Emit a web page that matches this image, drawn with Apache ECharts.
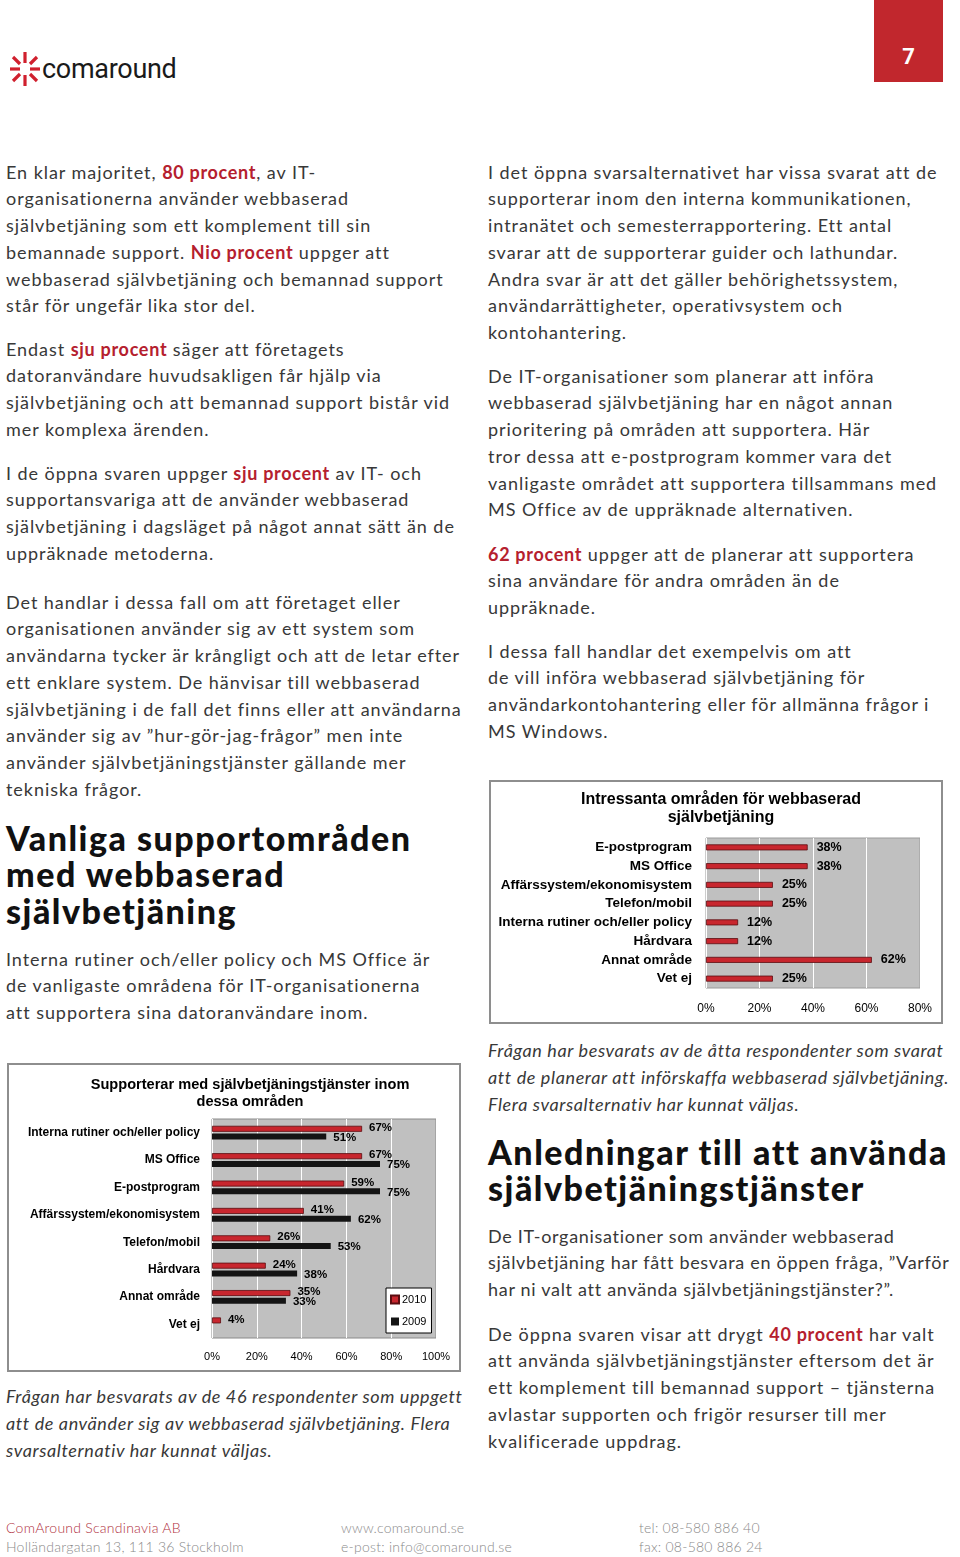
<!DOCTYPE html>
<html>
<head>
<meta charset="utf-8">
<script src="https://cdn.jsdelivr.net/npm/echarts@6/dist/echarts.min.js"></script>
<style>
  html, body { margin:0; padding:0; background:#fff; }
  body { width:960px; height:1557px; position:relative; overflow:hidden; font-family: Lato, "Open Sans", sans-serif; color:#333; }
  .p { position:absolute; font-size:18px; line-height:26.8px; white-space:nowrap; color:#383838; font-weight:400; letter-spacing:0.95px; }
  .p b { color:#b5202e; font-weight:700; letter-spacing:0.7px; }
  .it { font-style:italic; line-height:27px; letter-spacing:0.62px; }
  .h { position:absolute; font-size:34px; font-weight:900; line-height:36.5px; color:#111; white-space:nowrap; letter-spacing:1.5px; }
  .box { position:absolute; box-sizing:border-box; border:2px solid #8e8e8e; background:#fff; }
  .chart { position:absolute; }
  .foot { position:absolute; font-size:14px; line-height:19px; color:#8a8a8a; white-space:nowrap; font-weight:300; letter-spacing:0.25px; }
</style>
</head>
<body>
<!-- header -->
<svg style="position:absolute;left:8px;top:50px" width="34" height="38" viewBox="0 0 34 38">
  <g stroke="#d0202e" stroke-width="3.2" stroke-linecap="butt" fill="none">
    <line x1="17" y1="2" x2="17" y2="13"/>
    <line x1="17" y1="25" x2="17" y2="36"/>
    <line x1="2" y1="19" x2="12" y2="19"/>
    <line x1="22" y1="19" x2="32" y2="19"/>
    <line x1="5" y1="7" x2="12" y2="14"/>
    <line x1="29" y1="31" x2="22" y2="24"/>
    <line x1="29" y1="7" x2="22" y2="14"/>
    <line x1="5" y1="31" x2="12" y2="24"/>
  </g>
</svg>
<div style="position:absolute;left:42px;top:53px;font-family:Roboto,Lato,sans-serif;font-size:27px;line-height:32px;color:#1a1a1a;letter-spacing:-0.3px;">comaround</div>
<div style="position:absolute;left:874px;top:0;width:69px;height:82px;background:#c1272d;color:#fff;font-family:Roboto,sans-serif;font-weight:700;font-size:22px;text-align:center;line-height:114px;">7</div>

<!-- left column -->
<div class="p" style="left:6px;top:158.5px">En klar majoritet, <b>80 procent</b>, av IT-<br>organisationerna använder webbaserad<br>självbetjäning som ett komplement till sin<br>bemannade support. <b>Nio procent</b> uppger att<br>webbaserad självbetjäning och bemannad support<br>står för ungefär lika stor del.</div>
<div class="p" style="left:6px;top:335.5px">Endast <b>sju procent</b> säger att företagets<br>datoranvändare huvudsakligen får hjälp via<br>självbetjäning och att bemannad support bistår vid<br>mer komplexa ärenden.</div>
<div class="p" style="left:6px;top:459.5px">I de öppna svaren uppger <b>sju procent</b> av IT- och<br>supportansvariga att de använder webbaserad<br>självbetjäning i dagsläget på något annat sätt än de<br>uppräknade metoderna.</div>
<div class="p" style="left:6px;top:588.5px">Det handlar i dessa fall om att företaget eller<br>organisationen använder sig av ett system som<br>användarna tycker är krångligt och att de letar efter<br>ett enklare system. De hänvisar till webbaserad<br>självbetjäning i de fall det finns eller att användarna<br>använder sig av ”hur-gör-jag-frågor” men inte<br>använder självbetjäningstjänster gällande mer<br>tekniska frågor.</div>
<div class="h" style="left:6px;top:819.5px">Vanliga supportområden<br>med webbaserad<br>självbetjäning</div>
<div class="p" style="left:6px;top:945.5px">Interna rutiner och/eller policy och MS Office är<br>de vanligaste områdena för IT-organisationerna<br>att supportera sina datoranvändare inom.</div>

<div class="box" style="left:7px;top:1063px;width:454px;height:309px"></div>
<div id="c1" class="chart" style="left:7px;top:1063px;width:454px;height:309px"></div>

<div class="p it" style="left:6px;top:1382.5px">Frågan har besvarats av de 46 respondenter som uppgett<br>att de använder sig av webbaserad självbetjäning. Flera<br>svarsalternativ har kunnat väljas.</div>

<!-- right column -->
<div class="p" style="left:488px;top:158.5px">I det öppna svarsalternativet har vissa svarat att de<br>supporterar inom den interna kommunikationen,<br>intranätet och semesterrapportering. Ett antal<br>svarar att de supporterar guider och lathundar.<br>Andra svar är att det gäller behörighetssystem,<br>användarrättigheter, operativsystem och<br>kontohantering.</div>
<div class="p" style="left:488px;top:362.5px">De IT-organisationer som planerar att införa<br>webbaserad självbetjäning har en något annan<br>prioritering på områden att supportera. Här<br>tror dessa att e-postprogram kommer vara det<br>vanligaste området att supportera tillsammans med<br>MS Office av de uppräknade alternativen.</div>
<div class="p" style="left:488px;top:540.5px"><b>62 procent</b> uppger att de planerar att supportera<br>sina användare för andra områden än de<br>uppräknade.</div>
<div class="p" style="left:488px;top:637.5px">I dessa fall handlar det exempelvis om att<br>de vill införa webbaserad självbetjäning för<br>användarkontohantering eller för allmänna frågor i<br>MS Windows.</div>

<div class="box" style="left:489px;top:780px;width:454px;height:244px"></div>
<div id="c2" class="chart" style="left:489px;top:780px;width:454px;height:244px"></div>

<div class="p it" style="left:488px;top:1036.5px">Frågan har besvarats av de åtta respondenter som svarat<br>att de planerar att införskaffa webbaserad självbetjäning.<br>Flera svarsalternativ har kunnat väljas.</div>
<div class="h" style="left:488px;top:1134px;line-height:36px">Anledningar till att använda<br>självbetjäningstjänster</div>
<div class="p" style="left:488px;top:1222.5px;letter-spacing:0.7px">De IT-organisationer som använder webbaserad<br>självbetjäning har fått besvara en öppen fråga, ”Varför<br>har ni valt att använda självbetjäningstjänster?”.</div>
<div class="p" style="left:488px;top:1320.5px">De öppna svaren visar att drygt <b>40 procent</b> har valt<br>att använda självbetjäningstjänster eftersom det är<br>ett komplement till bemannad support – tjänsterna<br>avlastar supporten och frigör resurser till mer<br>kvalificerade uppdrag.</div>

<!-- footer -->
<div class="foot" style="left:6px;top:1518px"><span style="color:#b03040">ComAround Scandinavia AB</span><br>Holländargatan 13, 111 36 Stockholm</div>
<div class="foot" style="left:341px;top:1518px">www.comaround.se<br>e-post: info@comaround.se</div>
<div class="foot" style="left:639px;top:1518px">tel: 08-580 886 40<br>fax: 08-580 886 24</div>

<script>
// ---- Chart 1 data ----
const cats1 = ['Interna rutiner och/eller policy','MS Office','E-postprogram','Affärssystem/ekonomisystem','Telefon/mobil','Hårdvara','Annat område','Vet ej'];
const values2010 = [67, 67, 59, 41, 26, 24, 35, 4];
const values2009 = [51, 75, 75, 62, 53, 38, 33, null];
const series1Names = ['2010', '2009'];
const title1 = 'Supporterar med självbetjäningstjänster inom\ndessa områden';

// ---- Chart 2 data ----
const cats2 = ['E-postprogram','MS Office','Affärssystem/ekonomisystem','Telefon/mobil','Interna rutiner och/eller policy','Hårdvara','Annat område','Vet ej'];
const values2 = [38, 38, 25, 25, 12, 12, 62, 25];
const title2 = 'Intressanta områden för webbaserad\nsjälvbetjäning';

const FONT = '"Liberation Sans", Arial, sans-serif';
const RED = '#c8262e';
const RED_BORDER = '#5a0c10';
const BLACK = '#141414';

function pct(p) { return p.value == null ? '' : p.value + '%'; }

const c1 = echarts.init(document.getElementById('c1'), null, {renderer:'canvas'});
c1.setOption({
  animation: false,
  title: {
    text: title1, left: 238, top: 8, textAlign: 'center',
    textStyle: { fontFamily: FONT, fontSize: 14.6, fontWeight: 'bold', color: '#000', lineHeight: 17 }
  },
  legend: {
    orient: 'vertical', left: 379, top: 225,
    data: series1Names,
    icon: 'rect', itemWidth: 8, itemHeight: 8, itemGap: 11,
    padding: [6, 5, 6, 4],
    backgroundColor: '#fff', borderColor: '#000', borderWidth: 1,
    textStyle: { fontFamily: FONT, fontSize: 11, color: '#000', padding: [0,0,0,-2] }
  },
  grid: { left: 205, right: 25, top: 56, bottom: 34, show: true, backgroundColor: '#c0c0c0', borderColor: '#8a8a8a', borderWidth: 1 },
  xAxis: {
    type: 'value', min: 0, max: 100, interval: 20,
    axisLabel: { formatter: '{value}%', fontFamily: FONT, fontSize: 11, color: '#000', margin: 13 },
    axisLine: { show: false }, axisTick: { show: false },
    splitLine: { show: true, lineStyle: { color: '#ffffff', width: 1 } }
  },
  yAxis: {
    type: 'category', inverse: true, data: cats1,
    axisLabel: { fontFamily: FONT, fontSize: 12, fontWeight: 'bold', color: '#000', margin: 12 },
    axisLine: { show: false }, axisTick: { show: false }
  },
  series: [
    { name: series1Names[0], type: 'bar', data: values2010, barWidth: 6, barGap: '30%',
      itemStyle: { color: RED, borderColor: RED_BORDER, borderWidth: 0.8 },
      label: { show: true, position: 'right', distance: 7, formatter: pct, fontFamily: FONT, fontSize: 11.5, fontWeight: 'bold', color: '#000', offset: [0, -1] } },
    { name: series1Names[1], type: 'bar', data: values2009, barWidth: 6,
      itemStyle: { color: BLACK },
      label: { show: true, position: 'right', distance: 7, formatter: pct, fontFamily: FONT, fontSize: 11.5, fontWeight: 'bold', color: '#000', offset: [0, 1] } }
  ]
});

const c2 = echarts.init(document.getElementById('c2'), null, {renderer:'canvas'});
c2.setOption({
  animation: false,
  title: {
    text: title2, left: 227, top: 6, textAlign: 'center',
    textStyle: { fontFamily: FONT, fontSize: 16, fontWeight: 'bold', color: '#000', lineHeight: 18 }
  },
  grid: { left: 217, right: 23, top: 58, bottom: 36, show: true, backgroundColor: '#c0c0c0', borderColor: '#9a9a9a', borderWidth: 1 },
  xAxis: {
    type: 'value', min: 0, max: 80, interval: 20,
    axisLabel: { formatter: '{value}%', fontFamily: FONT, fontSize: 12, color: '#000', margin: 15 },
    axisLine: { show: false }, axisTick: { show: false },
    splitLine: { show: true, lineStyle: { color: '#ffffff', width: 1 } }
  },
  yAxis: {
    type: 'category', inverse: true, data: cats2,
    axisLabel: { fontFamily: FONT, fontSize: 13.5, fontWeight: 'bold', color: '#000', margin: 14 },
    axisLine: { show: false }, axisTick: { show: false }
  },
  series: [
    { name: '2010', type: 'bar', data: values2, barWidth: 6,
      itemStyle: { color: RED, borderColor: RED_BORDER, borderWidth: 0.8 },
      label: { show: true, position: 'right', distance: 9, formatter: pct, fontFamily: FONT, fontSize: 12.5, fontWeight: 'bold', color: '#000' } }
  ]
});
</script>
</body>
</html>
